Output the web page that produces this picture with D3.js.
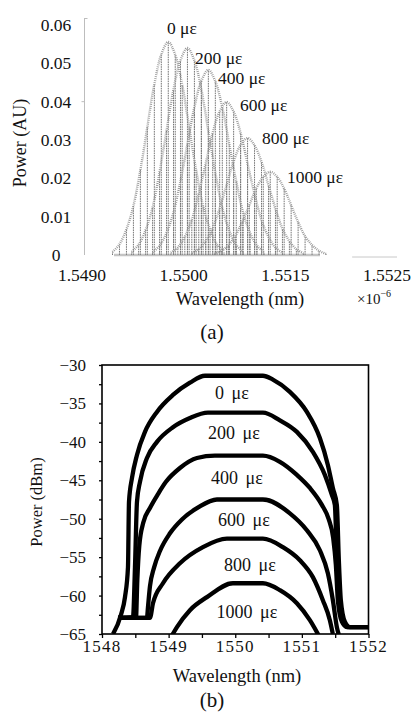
<!DOCTYPE html>
<html><head><meta charset="utf-8">
<script src="https://cdn.jsdelivr.net/npm/d3@7"></script>
<style>
body{margin:0;background:#fff}
svg{display:block}
text{font-family:"Liberation Serif","Times New Roman",serif;fill:#111}
</style>
</head><body>
<svg id="c" width="414" height="718"></svg>
<script>
// ================= DATA =================
const strainLabels = ["0 \u03bc\u03b5","200 \u03bc\u03b5","400 \u03bc\u03b5","600 \u03bc\u03b5","800 \u03bc\u03b5","1000 \u03bc\u03b5"];

// ---- Panel (a): simulated spectra (wavelength in 1e-6 m, power in AU)
const aYTicks = [0, 0.01, 0.02, 0.03, 0.04, 0.05, 0.06];
const aYTickLabels = ["0","0.01","0.02","0.03","0.04","0.05","0.06"];
const aXTickLabels = ["1.5490","1.5500","1.5515","1.5525"];

const aWl0 = [1.54935,1.54943,1.54951,1.54959,1.54967,1.54975,1.54983,1.54991,1.54999,1.55007,1.55015,1.55023,1.55031,1.55039,1.55047,1.55055,1.55063];
const aP0  = [0.0008,0.0028,0.0067,0.0128,0.0222,0.0334,0.0445,0.0523,0.0556,0.0522,0.0444,0.0333,0.0221,0.0127,0.0066,0.0027,0.0008];
const aWl1 = [1.54957,1.54965,1.54973,1.54981,1.54989,1.54997,1.55005,1.55013,1.55021,1.55029,1.55037,1.55045,1.55053,1.55061,1.55069,1.55077,1.55085];
const aP1  = [0.0008,0.0027,0.0065,0.0124,0.0216,0.0324,0.0432,0.0508,0.0540,0.0507,0.0431,0.0323,0.0215,0.0123,0.0064,0.0026,0.0008];
const aWl2 = [1.54981,1.54989,1.54997,1.55005,1.55013,1.55021,1.55029,1.55037,1.55045,1.55053,1.55061,1.55069,1.55077,1.55085,1.55093,1.55101,1.55109];
const aP2  = [0.0007,0.0024,0.0058,0.0111,0.0193,0.0290,0.0386,0.0454,0.0483,0.0453,0.0385,0.0289,0.0192,0.0110,0.0057,0.0024,0.0007];
const aWl3 = [1.55002,1.55010,1.55018,1.55026,1.55034,1.55042,1.55050,1.55058,1.55066,1.55074,1.55082,1.55090,1.55098,1.55106,1.55114,1.55122,1.55130];
const aP3  = [0.0006,0.0020,0.0048,0.0092,0.0160,0.0239,0.0319,0.0375,0.0399,0.0374,0.0318,0.0238,0.0159,0.0091,0.0047,0.0019,0.0006];
const aWl4 = [1.55026,1.55034,1.55042,1.55050,1.55058,1.55066,1.55074,1.55082,1.55090,1.55098,1.55106,1.55114,1.55122,1.55130,1.55138,1.55146,1.55154];
const aP4  = [0.0005,0.0015,0.0037,0.0070,0.0122,0.0183,0.0244,0.0287,0.0305,0.0286,0.0243,0.0182,0.0121,0.0069,0.0036,0.0015,0.0005];
const aWl5 = [1.55052,1.55060,1.55068,1.55076,1.55084,1.55092,1.55100,1.55108,1.55116,1.55124,1.55132,1.55140,1.55148,1.55156,1.55164,1.55172,1.55180];
const aP5  = [0.0003,0.0011,0.0026,0.0050,0.0087,0.0130,0.0174,0.0204,0.0217,0.0204,0.0173,0.0130,0.0086,0.0049,0.0026,0.0011,0.0003];
// label anchors for panel (a) (wavelength, power)
const aLabelWl = [1.549975,1.550297,1.550561,1.550813,1.551066,1.551352];
const aLabelP  = [0.0577,0.0498,0.0446,0.0376,0.0290,0.0188];

// ---- Panel (b): measured spectra (wavelength nm, power dBm)
const bYTicks = [-30,-35,-40,-45,-50,-55,-60,-65];
const bXTicks = [1548,1549,1550,1551,1552];

const bWl0 = [1548.165,1548.285,1548.345,1548.39,1548.405,1548.45,1548.525,1548.645,1548.825,1549.065,1549.32,1549.545,1550.415,1550.565,1550.82,1551.075,1551.27,1551.39,1551.465,1551.525,1551.555,1551.585,1551.645,1551.72,1552.0];
const bP0  = [-65,-62.5,-60.2,-56.3,-47.8,-44.7,-41.7,-38.7,-36.1,-33.9,-32.3,-31.4,-31.4,-31.9,-33.5,-36.1,-39.5,-43.0,-46.0,-48.2,-55.4,-60.6,-63.4,-64.1,-64.1];
const bWl1 = [1548.24,1548.465,1548.495,1548.525,1548.57,1548.675,1548.825,1549.065,1549.32,1549.59,1550.415,1550.67,1550.925,1551.165,1551.345,1551.45,1551.495,1551.525,1551.555,1551.615,1551.69,1552.0];
const bP1  = [-62.9,-62.8,-56.3,-47.8,-45.2,-42.1,-40.0,-38.1,-36.9,-36.2,-36.2,-37.2,-38.7,-41.3,-44.3,-46.9,-48.2,-55.4,-60.6,-63.4,-64.1,-64.1];
const bWl2 = [1548.24,1548.51,1548.53,1548.56,1548.62,1548.72,1548.84,1548.96,1549.17,1549.425,1549.695,1550.415,1550.67,1550.925,1551.12,1551.30,1551.40,1551.47,1551.51,1551.54,1551.60,1551.675,1552.0];
const bP2  = [-62.9,-62.9,-58.0,-53.5,-50.5,-48.6,-46.8,-45.2,-43.4,-42.1,-41.8,-41.8,-42.6,-44.3,-46.0,-48.2,-50.0,-52.5,-56.0,-60.6,-63.4,-64.1,-64.1];
const bWl3 = [1548.24,1548.675,1548.69,1548.72,1548.78,1548.87,1549.02,1549.2,1549.45,1549.725,1550.415,1550.82,1551.075,1551.27,1551.39,1551.465,1551.525,1551.57];
const bP3  = [-62.9,-62.9,-61.5,-58.8,-56.4,-54.2,-51.9,-50.1,-48.5,-47.5,-47.5,-49.3,-51.5,-54.1,-57.1,-60.6,-64.1,-65.5];
const bWl4 = [1548.24,1548.72,1548.765,1548.915,1549.17,1549.515,1549.875,1550.415,1550.715,1550.97,1551.165,1551.315,1551.42,1551.465];
const bP4  = [-62.9,-62.9,-61.0,-58.4,-55.8,-53.7,-52.6,-52.6,-53.7,-55.4,-57.6,-60.6,-63.2,-65.0];
const bWl5 = [1549.03,1549.125,1549.32,1549.575,1549.965,1550.415,1550.67,1550.925,1551.12,1551.26];
const bP5  = [-65.5,-64.1,-61.9,-60.2,-58.4,-58.4,-59.3,-61.0,-63.2,-65.3];
// label anchors for panel (b)
const bLabelWl = [1549.95,1549.98,1550.025,1550.13,1550.22,1550.175];
const bLabelP  = [-34.42,-39.63,-45.48,-50.95,-56.8,-62.9];

// ================= DRAW =================
const svg = d3.select("#c");
const zip = (xs, ys) => xs.map((x, i) => [x, ys[i]]);

// ---------- Panel (a)
const ax = d3.scaleLinear().domain([1.5490, 1.5525]).range([82, 387]);
const ay = d3.scaleLinear().domain([0, 0.06]).range([255, 25]);
const aSeries = [zip(aWl0,aP0), zip(aWl1,aP1), zip(aWl2,aP2), zip(aWl3,aP3), zip(aWl4,aP4), zip(aWl5,aP5)];

const gA = svg.append("g");
gA.append("line").attr("x1",84.5).attr("x2",84.5).attr("y1",18).attr("y2",255)
  .attr("stroke","#bdbdbd").attr("stroke-width",1);
gA.append("line").attr("x1",84.5).attr("x2",87.5).attr("y1",18.5).attr("y2",18.5).attr("stroke","#bdbdbd");
gA.append("line").attr("x1",81.5).attr("x2",84.5).attr("y1",ay(0.04)).attr("y2",ay(0.04)).attr("stroke","#bdbdbd");
gA.append("line").attr("x1",ax(1.55210)).attr("x2",ax(1.5525)+10).attr("y1",257).attr("y2",257)
  .attr("stroke","#c8c8c8").attr("stroke-width",1);

gA.selectAll("text.ya").data(aYTicks).join("text")
  .attr("x",56).attr("y",d=>ay(d)+6).attr("text-anchor","middle")
  .attr("font-size",17.5).text((d,i)=>aYTickLabels[i]);
const aXTickVals = d3.range(4).map(i => 1.5490 + i*(0.0035/3));
gA.selectAll("text.xa").data(aXTickVals).join("text")
  .attr("x",d=>ax(d)).attr("y",281).attr("text-anchor","middle")
  .attr("font-size",17.5).text((d,i)=>aXTickLabels[i]);

// stems
aSeries.forEach(s => {
  gA.append("g").selectAll("line").data(s).join("line")
    .attr("x1",d=>ax(d[0])).attr("x2",d=>ax(d[0]))
    .attr("y1",ay(0)).attr("y2",d=>ay(d[1]))
    .attr("stroke","#777").attr("stroke-width",1)
    .attr("stroke-dasharray","1.6,0.8");
});
// envelopes
const aLine = d3.line().x(d=>ax(d[0])).y(d=>ay(d[1])).curve(d3.curveCatmullRom);
aSeries.forEach(s => {
  gA.append("path").attr("d", aLine(s)).attr("fill","none")
    .attr("stroke","#999").attr("stroke-width",2.4).attr("stroke-dasharray","0.9,1.1");
});
gA.append("line").attr("x1",ax(aWl0[0])+2).attr("x2",ax(aWl5[aWl5.length-1])-6)
  .attr("y1",ay(0)).attr("y2",ay(0)).attr("stroke","#888").attr("stroke-width",2.4)
  .attr("stroke-dasharray","1,1");

gA.selectAll("text.la").data(strainLabels).join("text")
  .attr("x",(d,i)=>ax(aLabelWl[i])).attr("y",(d,i)=>ay(aLabelP[i]))
  .attr("font-size",17.5).text(d=>d);

gA.append("text").attr("x",240).attr("y",305).attr("text-anchor","middle")
  .attr("font-size",18.5).text("Wavelength (nm)");
const sci = gA.append("text").attr("x",357).attr("y",304).attr("font-size",15).attr("fill","#444");
sci.append("tspan").text("\u00d710");
sci.append("tspan").attr("dy",-7).attr("font-size",10).text("\u22126");
gA.append("text").attr("transform","translate(26,143) rotate(-90)").attr("text-anchor","middle")
  .attr("font-size",18).text("Power (AU)");
gA.append("text").attr("x",212).attr("y",339).attr("text-anchor","middle")
  .attr("font-size",21).text("(a)");

// ---------- Panel (b)
const bx = d3.scaleLinear().domain([1548, 1552]).range([102, 368.5]);
const by = d3.scaleLinear().domain([-65, -30]).range([634, 365]);
const bSeries = [zip(bWl0,bP0), zip(bWl1,bP1), zip(bWl2,bP2), zip(bWl3,bP3), zip(bWl4,bP4), zip(bWl5,bP5)];
const gB = svg.append("g");

svg.append("defs").append("clipPath").attr("id","clipB")
  .append("rect").attr("x",bx(1548)).attr("y",by(-30)).attr("width",bx(1552)-bx(1548)).attr("height",by(-65)-by(-30));

const bLine = d3.line().x(d=>bx(d[0])).y(d=>by(d[1])).curve(d3.curveMonotoneX);
const gCurves = gB.append("g").attr("clip-path","url(#clipB)");
bSeries.forEach(s => {
  gCurves.append("path").attr("d", bLine(s)).attr("fill","none")
    .attr("stroke","#000").attr("stroke-width",4.3).attr("stroke-linejoin","round");
});

gB.append("rect").attr("x",bx(1548)).attr("y",by(-30)).attr("width",bx(1552)-bx(1548)).attr("height",by(-65)-by(-30))
  .attr("fill","none").attr("stroke","#000").attr("stroke-width",1.6);

const yAxisB = d3.axisLeft(by).tickValues(d3.range(-65,-29.9,2.5)).tickSize(3).tickFormat("");
gB.append("g").attr("transform",`translate(${bx(1548)},0)`).call(yAxisB)
  .call(g=>g.select(".domain").remove())
  .call(g=>g.selectAll("line").attr("stroke","#000").attr("stroke-width",1.3));
gB.selectAll("text.yb").data(bYTicks).join("text")
  .attr("x",86).attr("y",d=>by(d)+6).attr("text-anchor","end")
  .attr("font-size",17).text(d=>"\u2212"+Math.abs(d));
const xAxisB = d3.axisBottom(bx).tickValues(d3.range(1548,1552.01,0.5)).tickSize(4).tickFormat("");
gB.append("g").attr("transform",`translate(0,${by(-65)})`).call(xAxisB)
  .call(g=>g.select(".domain").remove())
  .call(g=>g.selectAll("line").attr("stroke","#000").attr("stroke-width",1.3));
gB.selectAll("text.xb").data(bXTicks).join("text")
  .attr("x",d=>bx(d)).attr("y",652).attr("text-anchor","middle")
  .attr("font-size",17).attr("letter-spacing",1.2).text(d=>d);

gB.selectAll("text.lb").data(strainLabels).join("text")
  .attr("x",(d,i)=>bx(bLabelWl[i])).attr("y",(d,i)=>by(bLabelP[i]))
  .attr("text-anchor","middle").attr("font-size",18).attr("word-spacing",3).text(d=>d);

gB.append("text").attr("x",237).attr("y",682).attr("text-anchor","middle")
  .attr("font-size",18.5).text("Wavelength (nm)");
gB.append("text").attr("transform","translate(42,502) rotate(-90)").attr("text-anchor","middle")
  .attr("font-size",16.5).text("Power (dBm)");
gB.append("text").attr("x",212).attr("y",707).attr("text-anchor","middle")
  .attr("font-size",21).text("(b)");
</script>
</body></html>
